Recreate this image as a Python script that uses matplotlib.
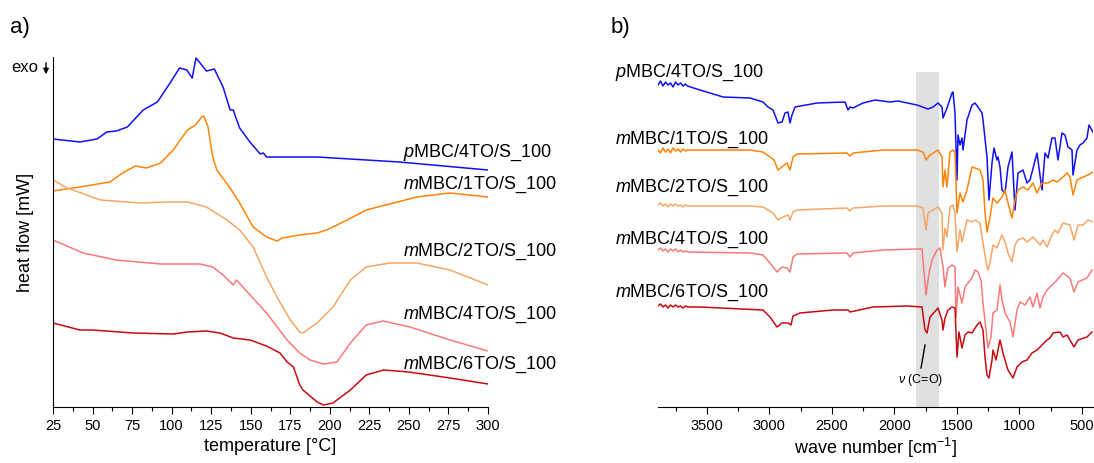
import matplotlib
matplotlib.use("Agg")
import matplotlib.pyplot as plt
from matplotlib.ticker import MultipleLocator

plt.rcParams['font.family'] = ['Liberation Sans', 'DejaVu Sans']
plt.rcParams['mathtext.fontset'] = 'custom'
plt.rcParams['mathtext.rm'] = 'Liberation Sans'
plt.rcParams['mathtext.it'] = 'Liberation Sans:italic'

# ---------------- DSC data (a) ----------------
dsc_labels = [r'$\it{p}$MBC/4TO/S_100', r'$\it{m}$MBC/1TO/S_100', r'$\it{m}$MBC/2TO/S_100',
              r'$\it{m}$MBC/4TO/S_100', r'$\it{m}$MBC/6TO/S_100']
colors = ['#1010f5', '#ff8308', '#f7a665', '#f77a7a', '#c80a10']

dsc_T_p4 = [25, 42, 52.8, 59, 65, 72, 82, 91, 99, 105, 109.6, 113, 115.4, 118, 122, 127, 132.5, 137, 139, 140,
            143, 149.5, 156, 158, 160, 181, 192, 244, 300]
dsc_hf_p4 = [268, 265, 268, 275, 276, 280, 297, 305, 324, 339, 337, 329, 349, 344, 336, 338, 320, 297, 297, 292,
             279, 265, 253, 254, 250, 250, 250, 245, 237]

dsc_T_m1 = [25, 42, 61, 69, 77, 84, 93, 101, 110, 115, 119, 120.4, 123, 126, 128.6, 137, 143, 151.5, 160, 166.6,
            170, 181, 192, 198, 211, 223, 255, 276, 300]
dsc_hf_m1 = [216, 220, 225, 234, 241, 239, 244, 257, 277, 282, 290, 291, 280, 250, 237, 219, 204, 180, 170, 166,
             169, 172, 174, 177, 187, 197, 210, 214, 210]

dsc_T_m2 = [25, 34, 55, 80, 97, 110, 122, 135, 143, 151.5, 160, 166.6, 175, 181, 183, 192, 202, 213, 223, 238,
            255, 276, 300]
dsc_hf_m2 = [227, 219, 207, 204, 205, 205, 200, 187, 177, 160, 130, 110, 87, 75, 74, 84, 100, 127, 140, 144,
             144, 137, 122]

dsc_T_m4 = [25, 44, 65, 93, 118, 126, 132.5, 139, 141, 145, 160, 173, 181, 187.5, 196, 204.5, 213, 223, 233.6,
            250.6, 276, 300]
dsc_hf_m4 = [167, 154, 147, 143, 143, 140, 132, 122, 127, 120, 94, 67, 54, 47, 43, 45, 64, 82, 86,
             80, 67, 56]

dsc_T_m6 = [25, 42, 50, 75.6, 101, 110, 122, 130.5, 139, 149.5, 160, 168.5, 173, 177, 181, 183, 192, 196, 202,
            213, 223, 234, 250, 276, 300]
dsc_hf_m6 = [84, 77, 77, 74, 73, 75, 76, 74, 69, 67, 61, 54, 45, 40, 22, 17, 5, 2, 4,
             17, 32, 37, 35, 29, 23]

dsc_label_y = [254, 222, 155, 92, 42]
temp_ticks = [25, 50, 75, 100, 125, 150, 175, 200, 225, 250, 275, 300]

# ---------------- FTIR data (b) ----------------
ir_wn_p4 = [3890, 3870, 3850, 3830, 3810, 3790, 3770, 3750, 3730, 3710, 3690, 3670, 3655, 3555, 3475, 3370, 3154,
            3050, 3010, 2970, 2930, 2898, 2874, 2850, 2834, 2818, 2794, 2618, 2394, 2370, 2354, 2330, 2250, 2154,
            2034, 1970, 1818, 1730, 1690, 1650, 1618, 1610, 1578, 1538, 1530, 1514, 1498, 1490, 1474, 1458, 1450,
            1418, 1378, 1354, 1330, 1298, 1290, 1258, 1242, 1218, 1202, 1178, 1170, 1154, 1138, 1114, 1090, 1058,
            1034, 1010, 970, 938, 914, 858, 818, 794, 770, 738, 714, 690, 658, 634, 610, 578, 570, 538, 514, 490,
            458, 442, 410]
ir_ab_p4 = [322, 326, 321, 325, 322, 324, 320, 325, 322, 324, 321, 323, 321, 317, 314, 310, 309,
            305, 300, 297, 284, 285, 294, 295, 284, 292, 300, 304, 305, 297, 300, 299, 304, 307,
            305, 306, 302, 298, 300, 304, 300, 289, 299, 314, 315, 294, 227, 272, 262, 269, 257,
            287, 302, 304, 300, 294, 287, 250, 207, 244, 259, 247, 250, 240, 217, 214, 240, 255,
            197, 234, 237, 224, 227, 254, 217, 254, 249, 269, 269, 247, 274, 272, 260, 257, 232, 257, 262, 264,
            269, 282, 275]

ir_wn_m1 = [3890, 3870, 3850, 3830, 3810, 3790, 3770, 3750, 3730, 3710, 3690, 3670, 3650, 3154, 3050, 2994, 2962,
            2930, 2890, 2858, 2834, 2810, 2778, 2378, 2354, 2330, 2090, 1818, 1770, 1746, 1714, 1650, 1618, 1610,
            1594, 1578, 1554, 1530, 1514, 1498, 1474, 1450, 1418, 1378, 1354, 1314, 1290, 1274, 1258, 1234, 1210,
            1178, 1138, 1114, 1090, 1058, 1034, 1010, 970, 930, 890, 858, 818, 770, 730, 698, 650, 618, 594, 570,
            538, 490, 450, 410]
ir_ab_m1 = [257, 254, 259, 255, 258, 254, 259, 256, 258, 255, 258, 256, 257, 257, 255, 250, 247,
            237, 241, 244, 237, 250, 253, 254, 251, 254, 257, 257, 255, 247, 252, 257, 250, 220,
            237, 220, 255, 257, 255, 194, 214, 205, 217, 240, 239, 237, 227, 194, 175, 190, 209,
            204, 210, 217, 204, 189, 207, 217, 220, 217, 224, 214, 224, 224, 227, 225, 230, 234, 230, 212,
            227, 230, 232, 235]

ir_wn_m2 = [3890, 3870, 3850, 3830, 3810, 3790, 3770, 3750, 3730, 3710, 3690, 3670, 3650, 3154, 3050, 2970, 2930,
            2890, 2850, 2834, 2810, 2778, 2378, 2354, 2330, 2090, 1818, 1770, 1746, 1730, 1690, 1650, 1618, 1610,
            1594, 1578, 1554, 1530, 1514, 1498, 1474, 1458, 1418, 1378, 1354, 1314, 1290, 1258, 1250, 1234, 1210,
            1178, 1138, 1114, 1090, 1058, 1034, 1010, 970, 938, 890, 834, 810, 778, 738, 714, 690, 650, 594, 562,
            530, 490, 450, 410]
ir_ab_m2 = [202, 204, 201, 203, 200, 203, 201, 203, 201, 202, 200, 202, 201, 201, 200, 194, 187,
            190, 192, 187, 195, 197, 199, 196, 199, 201, 201, 199, 177, 194, 197, 200, 194, 157,
            179, 170, 200, 202, 194, 155, 177, 165, 187, 185, 187, 184, 164, 140, 137, 144, 162,
            159, 172, 165, 154, 145, 162, 167, 169, 165, 170, 162, 167, 160, 172, 177, 174, 184, 182, 167,
            182, 182, 187, 185]

ir_wn_m4 = [3890, 3870, 3850, 3830, 3810, 3790, 3770, 3750, 3730, 3710, 3690, 3670, 3650, 3154, 3050, 2994, 2938,
            2898, 2858, 2834, 2810, 2778, 2378, 2354, 2330, 2090, 1818, 1778, 1770, 1746, 1722, 1698, 1658, 1634,
            1610, 1594, 1586, 1570, 1538, 1514, 1506, 1490, 1458, 1434, 1410, 1378, 1354, 1330, 1306, 1290, 1266,
            1250, 1226, 1210, 1178, 1154, 1138, 1114, 1074, 1050, 1018, 994, 954, 914, 890, 858, 834, 810, 778,
            754, 698, 650, 594, 562, 530, 458, 418]
ir_ab_m4 = [157, 159, 156, 158, 155, 158, 156, 158, 155, 157, 155, 156, 155, 154, 152, 144, 135,
            140, 139, 135, 150, 153, 154, 150, 154, 157, 158, 158, 147, 112, 134, 147, 157, 159,
            140, 120, 127, 139, 142, 140, 89, 120, 104, 120, 124, 129, 137, 135, 127, 104, 77,
            59, 70, 94, 97, 122, 107, 94, 85, 70, 97, 105, 102, 110, 100, 114, 99, 110, 117,
            120, 127, 134, 129, 115, 125, 129, 137]

ir_wn_m6 = [3890, 3870, 3850, 3830, 3810, 3790, 3770, 3750, 3730, 3710, 3690, 3670, 3650, 3555, 3050, 2994, 2938,
            2898, 2850, 2826, 2810, 2754, 2490, 2370, 2354, 2170, 1898, 1778, 1754, 1738, 1714, 1650, 1618, 1610,
            1594, 1570, 1538, 1514, 1498, 1482, 1458, 1434, 1410, 1378, 1338, 1314, 1290, 1274, 1258, 1242, 1218,
            1210, 1186, 1154, 1130, 1114, 1090, 1050, 1018, 978, 938, 898, 858, 818, 778, 754, 730, 674, 650, 618,
            562, 530, 458, 418]
ir_ab_m6 = [101, 103, 100, 102, 99, 102, 100, 102, 100, 101, 99, 101, 100, 100, 97, 90, 80,
            84, 84, 82, 91, 94, 97, 97, 95, 100, 101, 100, 77, 74, 90, 99, 87, 77,
            89, 97, 100, 99, 50, 75, 59, 72, 75, 74, 82, 85, 77, 50, 32, 29, 47,
            57, 47, 67, 54, 47, 37, 29, 40, 45, 47, 54, 57, 62, 67, 69, 74, 75, 70, 72,
            60, 67, 70, 75]

ir_label_y = [73, 140, 188, 240, 293]  # figure pixel rows (from top)
wn_ticks = [3500, 3000, 2500, 2000, 1500, 1000, 500]
band = (1642, 1826)

# ---------------- figure ----------------
W, H = 1094, 463
fig = plt.figure(figsize=(W / 100, H / 100), dpi=100)

def frac_x(px):
    return px / W

def frac_y(py):
    return 1 - py / H

axA = fig.add_axes([frac_x(53), frac_y(407), frac_x(488) - frac_x(53), frac_y(57) - frac_y(407)])
axB = fig.add_axes([frac_x(658), frac_y(407), frac_x(1093) - frac_x(658), frac_y(57) - frac_y(407)])

lw = 1.1
dsc_T = [dsc_T_p4, dsc_T_m1, dsc_T_m2, dsc_T_m4, dsc_T_m6]
dsc_hf = [dsc_hf_p4, dsc_hf_m1, dsc_hf_m2, dsc_hf_m4, dsc_hf_m6]
for T, hf, c, lab, ly in zip(dsc_T, dsc_hf, colors, dsc_labels, dsc_label_y):
    axA.plot(T, hf, color=c, lw=lw)
    axA.text(246, ly, lab, fontsize=13, ha='left', va='center', clip_on=False)

axA.set_xlim(25, 300)
axA.set_ylim(0, 350)
axA.set_xticks(temp_ticks)
axA.xaxis.set_minor_locator(MultipleLocator(12.5))
axA.set_yticks([])
for s in ['top', 'right']:
    axA.spines[s].set_visible(False)
axA.tick_params(axis='x', which='major', direction='out', length=5, width=0.8, labelsize=10.5, pad=4)
axA.tick_params(axis='x', which='minor', direction='out', length=3, width=0.8)
axA.set_xlabel('temperature [°C]', fontsize=13, labelpad=3)
axA.set_ylabel('heat flow [mW]', fontsize=13, labelpad=14)

ir_wn = [ir_wn_p4, ir_wn_m1, ir_wn_m2, ir_wn_m4, ir_wn_m6]
ir_ab = [ir_ab_p4, ir_ab_m1, ir_ab_m2, ir_ab_m4, ir_ab_m6]
axB.axvspan(band[0], band[1], ymin=0, ymax=335 / 350, color='#e0e0e0', lw=0, zorder=0)
for wn, ab, c, lab, ly in zip(ir_wn, ir_ab, colors, dsc_labels, ir_label_y):
    axB.plot(wn, ab, color=c, lw=lw)
    fig.text(frac_x(615), frac_y(ly), lab, fontsize=13, ha='left', va='center')

axB.set_xlim(3890, 410)
axB.set_ylim(0, 350)
axB.set_xticks(wn_ticks)
axB.xaxis.set_minor_locator(MultipleLocator(250))
axB.set_yticks([])
for s in ['top', 'right', 'left']:
    axB.spines[s].set_visible(False)
axB.tick_params(axis='x', which='major', direction='out', length=5, width=0.8, labelsize=10.5, pad=4)
axB.tick_params(axis='x', which='minor', direction='out', length=3, width=0.8)
axB.set_xlabel('wave number [cm$^{-1}$]', fontsize=13, labelpad=2)

axB.plot([1754, 1786], [62, 39], color='black', lw=1)
axB.text(1790, 27, r'$\nu$ (C=O)', fontsize=9, ha='center', va='center')

fig.text(frac_x(10), frac_y(28), 'a)', fontsize=16, ha='left', va='center')
fig.text(frac_x(611), frac_y(28), 'b)', fontsize=16, ha='left', va='center')
fig.text(frac_x(11), frac_y(68), 'exo', fontsize=12, ha='left', va='center')
fig.add_artist(matplotlib.patches.FancyArrowPatch((frac_x(46), frac_y(60)), (frac_x(46), frac_y(77)),
                                                  transform=fig.transFigure, arrowstyle='-|>',
                                                  mutation_scale=8, color='black', lw=1))

fig.savefig('out.png', dpi=100)
